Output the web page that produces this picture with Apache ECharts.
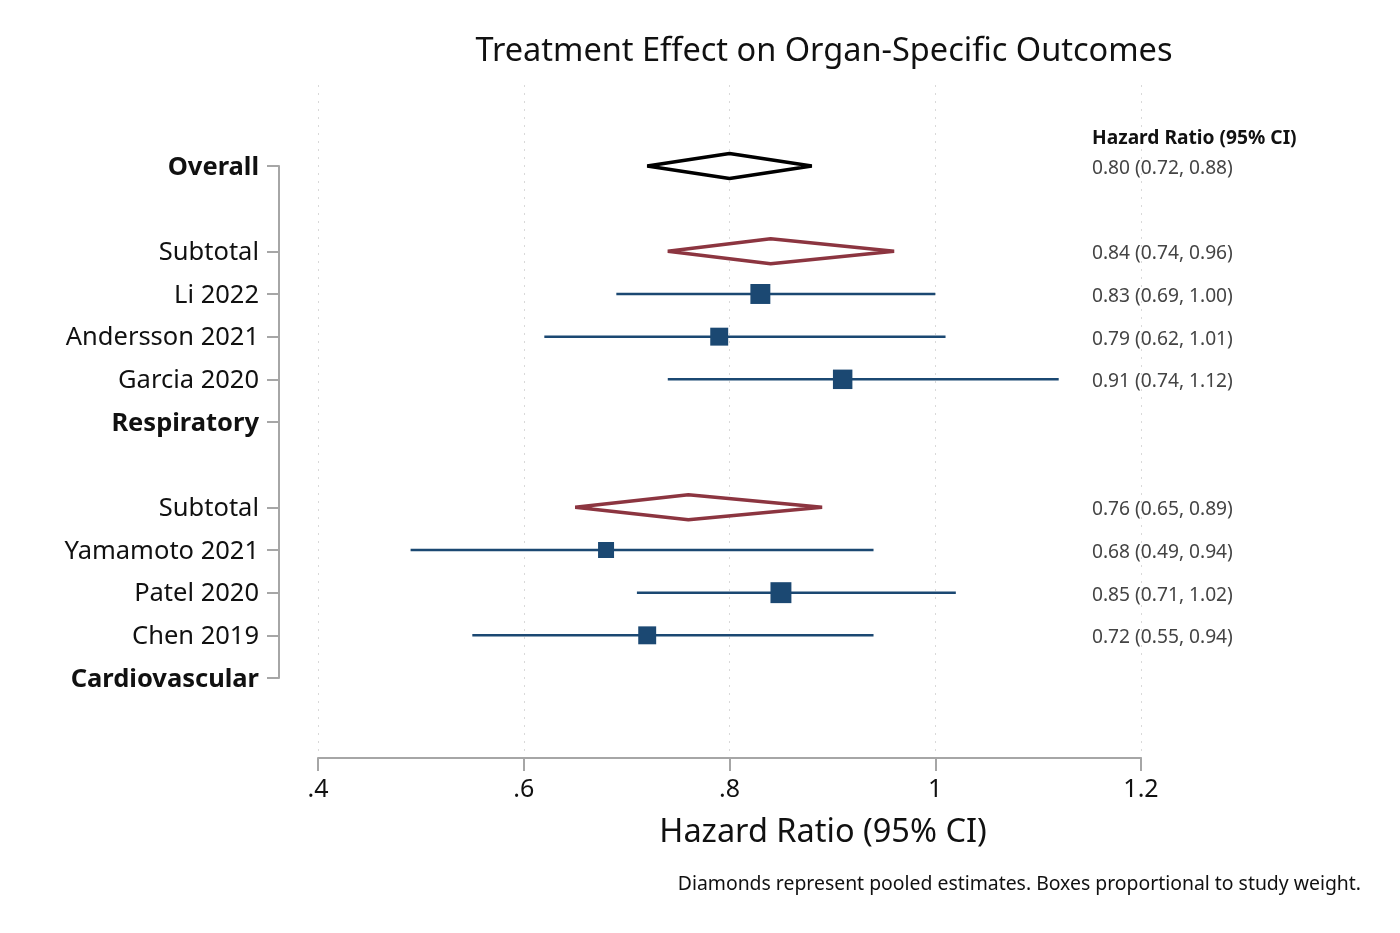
<!DOCTYPE html>
<html>
<head>
<meta charset="utf-8">
<script src="https://cdn.jsdelivr.net/npm/echarts@6/dist/echarts.min.js"></script>
<style>html,body{margin:0;padding:0;background:#fff;}#main{width:1400px;height:933px;}</style>
</head>
<body>
<div id="main"></div>
<script>
// ---- Data ----
const rowLabels = ['Cardiovascular','Chen 2019','Patel 2020','Yamamoto 2021','Subtotal','','Respiratory','Garcia 2020','Andersson 2021','Li 2022','Subtotal','','Overall'];
const boldRows = [0, 6, 12];
const rightTexts = ['', '0.72 (0.55, 0.94)', '0.85 (0.71, 1.02)', '0.68 (0.49, 0.94)', '0.76 (0.65, 0.89)', '', '', '0.91 (0.74, 1.12)', '0.79 (0.62, 1.01)', '0.83 (0.69, 1.00)', '0.84 (0.74, 0.96)', '', '0.80 (0.72, 0.88)'];

const studyNames = ['Li 2022','Andersson 2021','Garcia 2020','Yamamoto 2021','Patel 2020','Chen 2019'];
const studyRows = [9, 8, 7, 3, 2, 1];
const studyEst = [0.83, 0.79, 0.91, 0.68, 0.85, 0.72];
const studyLo = [0.69, 0.62, 0.74, 0.49, 0.71, 0.55];
const studyHi = [1.00, 1.01, 1.12, 0.94, 1.02, 0.94];
const studyWeight = [18.8, 15.2, 17.9, 12.1, 20.7, 15.2];

const pooledNames = ['Overall','Respiratory subtotal','Cardiovascular subtotal'];
const pooledRows = [12, 10, 4];
const pooledEst = [0.80, 0.84, 0.76];
const pooledLo = [0.72, 0.74, 0.65];
const pooledHi = [0.88, 0.96, 0.89];
const pooledIsOverall = [true, false, false];

const xTicks = [0.4, 0.6, 0.8, 1.0, 1.2];
const xTickLabels = ['.4', '.6', '.8', '1', '1.2'];

// ---- Chart ----
const FONT = '"Noto Sans", "Open Sans", sans-serif';
const NAVY = '#1b4872';
const RED = '#8c3540';
const AXIS = '#a6a6a6';
const labeledRows = rowLabels.map((l, i) => l ? i : null).filter(v => v !== null);
const rightRows = rightTexts.map((l, i) => l ? i : null).filter(v => v !== null);

const chart = echarts.init(document.getElementById('main'), null, {renderer: 'canvas'});

const studyData = studyRows.map((r, i) => [studyEst[i], r, studyLo[i], studyHi[i], studyWeight[i]]);
const pooledData = pooledRows.map((r, i) => [pooledEst[i], r, pooledLo[i], pooledHi[i], pooledIsOverall[i] ? 1 : 0]);

const option = {
  backgroundColor: '#fff',
  animation: false,
  textStyle: {fontFamily: FONT},
  title: [
    {text: 'Treatment Effect on Organ-Specific Outcomes', left: 819, top: 30, textAlign: 'center',
     textStyle: {fontFamily: FONT, fontSize: 32.5, fontWeight: 'normal', color: '#111'}},
    {text: 'Hazard Ratio (95% CI)', left: 818, top: 811, textAlign: 'center',
     textStyle: {fontFamily: FONT, fontSize: 32.5, fontWeight: 'normal', color: '#111'}},
    {text: 'Diamonds represent pooled estimates. Boxes proportional to study weight.', right: 34, top: 870,
     textStyle: {fontFamily: FONT, fontSize: 19.4, fontWeight: 'normal', color: '#111'}}
  ],
  grid: [
    {left: 318, width: 823, top: 85, height: 673},
    {left: 318, width: 823, top: 166, height: 512}
  ],
  xAxis: [
    {type: 'value', gridIndex: 0, min: 0.4, max: 1.2, interval: 0.2,
     axisLine: {show: true, onZero: false, lineStyle: {color: AXIS, width: 2}},
     axisTick: {show: true, length: 13, lineStyle: {color: AXIS, width: 2}},
     axisLabel: {fontFamily: FONT, fontSize: 25, color: '#111', margin: 19,
       formatter: v => { const k = xTicks.findIndex(t => Math.abs(t - v) < 1e-9); return k >= 0 ? xTickLabels[k] : ''; }},
     splitLine: {show: true, lineStyle: {color: '#d9d9d9', type: [2, 6], width: 1}}},
    {type: 'value', gridIndex: 1, min: 0.4, max: 1.2, show: false}
  ],
  yAxis: [
    {type: 'value', gridIndex: 0, min: -1.875, max: 13.898, show: false},
    {type: 'value', gridIndex: 1, min: 0, max: 12, interval: 1, position: 'left', offset: 39,
     axisLine: {show: true, onZero: false, lineStyle: {color: AXIS, width: 2}},
     axisTick: {show: true, length: 12, customValues: labeledRows, lineStyle: {color: AXIS, width: 2}},
     axisLabel: {show: true, margin: 20, customValues: labeledRows, padding: [3, 0, 0, 0],
       formatter: v => { const l = rowLabels[Math.round(v)] || ''; return boldRows.includes(Math.round(v)) ? '{b|' + l + '}' : '{n|' + l + '}'; },
       rich: {
         b: {fontFamily: FONT, fontSize: 25.5, fontWeight: 'bold', color: '#111'},
         n: {fontFamily: FONT, fontSize: 25.5, color: '#111'}
       }},
     splitLine: {show: false}},
    {type: 'value', gridIndex: 1, min: 0, max: 12, interval: 1, position: 'right', offset: -49,
     axisLine: {show: false}, axisTick: {show: false}, splitLine: {show: false},
     name: 'Hazard Ratio (95% CI)', nameLocation: 'end', nameGap: 18,
     nameTextStyle: {fontFamily: FONT, fontSize: 19.2, fontWeight: 'bold', color: '#111', align: 'left'},
     axisLabel: {show: true, margin: 0, customValues: rightRows, align: 'left',
       formatter: v => '{v|' + (rightTexts[Math.round(v)] || '') + '}',
       rich: {v: {fontFamily: FONT, fontSize: 19.2, color: '#444', padding: [5, 0, 0, 0]}}}}
  ],
  series: [
    {
      type: 'custom', name: 'Studies', xAxisIndex: 0, yAxisIndex: 0,
      data: studyData,
      renderItem: function (params, api) {
        const est = api.coord([api.value(0), api.value(1)]);
        const lo = api.coord([api.value(2), api.value(1)]);
        const hi = api.coord([api.value(3), api.value(1)]);
        const s = 4.6 * Math.sqrt(api.value(4));
        return {type: 'group', children: [
          {type: 'line', shape: {x1: lo[0], y1: lo[1], x2: hi[0], y2: hi[1]}, style: {stroke: NAVY, lineWidth: 2.5}},
          {type: 'rect', shape: {x: est[0] - s / 2, y: est[1] - s / 2, width: s, height: s}, style: {fill: NAVY}}
        ]};
      },
      z: 3
    },
    {
      type: 'custom', name: 'Pooled', xAxisIndex: 0, yAxisIndex: 0,
      data: pooledData,
      renderItem: function (params, api) {
        const est = api.coord([api.value(0), api.value(1)]);
        const lo = api.coord([api.value(2), api.value(1)]);
        const hi = api.coord([api.value(3), api.value(1)]);
        const h = 12.5;
        const overall = api.value(4) === 1;
        return {type: 'polygon', shape: {points: [[lo[0], lo[1]], [est[0], est[1] - h], [hi[0], hi[1]], [est[0], est[1] + h]]},
          style: {fill: '#fff', stroke: overall ? '#000' : RED, lineWidth: 3.5, lineJoin: 'bevel'}};
      },
      z: 3
    }
  ]
};
chart.setOption(option);
</script>
</body>
</html>
